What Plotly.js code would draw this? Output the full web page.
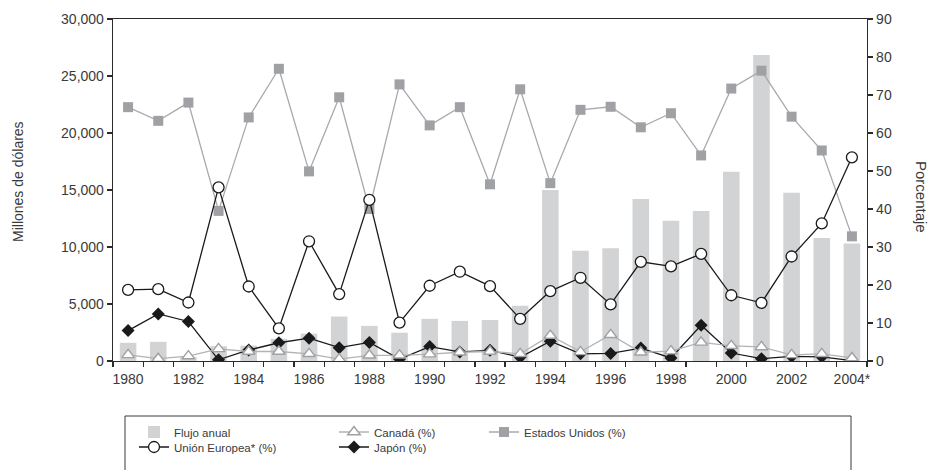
<!DOCTYPE html>
<html>
<head>
<meta charset="utf-8">
<script src="https://cdn.plot.ly/plotly-3.0.1.min.js"></script>
<style>
  html, body { margin: 0; padding: 0; background: #fff; }
  #chart { width: 932px; height: 470px; }
</style>
</head>
<body>
<div id="chart"></div>
<script>
// ---- Data ----
const years = [1980, 1981, 1982, 1983, 1984, 1985, 1986, 1987, 1988, 1989, 1990, 1991, 1992,
               1993, 1994, 1995, 1996, 1997, 1998, 1999, 2000, 2001, 2002, 2003, 2004];
const yearLabels = ["1980", "1982", "1984", "1986", "1988", "1990", "1992", "1994", "1996",
                    "1998", "2000", "2002", "2004*"];
const labelYears = [1980, 1982, 1984, 1986, 1988, 1990, 1992, 1994, 1996, 1998, 2000, 2002, 2004];

// Flujo anual (millones de dólares)
const flujoAnual = [1600, 1680, 350, 1300, 1350, 1950, 2400, 3900, 3080, 2480, 3700, 3520, 3600,
                    4850, 15000, 9680, 9900, 14200, 12300, 13150, 16600, 26850, 14750, 10800, 10300];
// Porcentajes
const estadosUnidos = [66.8, 63.2, 68.0, 39.5, 64.1, 76.9, 49.9, 69.4, 40.0, 72.8, 62.0, 66.8, 46.5,
                       71.5, 46.8, 66.1, 66.9, 61.5, 65.2, 54.1, 71.7, 76.4, 64.3, 55.4, 32.8];
const unionEuropea = [18.7, 18.9, 15.4, 45.7, 19.6, 8.6, 31.5, 17.6, 42.4, 10.1, 19.8, 23.5, 19.7,
                      11.1, 18.4, 21.9, 14.9, 26.1, 24.9, 28.2, 17.3, 15.3, 27.5, 36.2, 53.6];
const japon = [8.0, 12.4, 10.4, 0.3, 2.9, 4.8, 6.0, 3.5, 4.9, 0.5, 3.8, 2.4, 2.8,
               1.0, 5.2, 1.9, 2.0, 3.4, 0.8, 9.4, 2.1, 0.6, 1.2, 1.1, 0.1];
const canada = [1.6, 0.6, 1.3, 3.2, 2.5, 2.5, 1.9, 0.5, 1.5, 1.5, 1.8, 2.3, 2.5,
                1.9, 6.7, 2.4, 6.9, 2.3, 2.6, 4.9, 4.0, 3.7, 1.6, 1.9, 0.8];

const seriesNames = ["Flujo anual", "Canadá (%)", "Estados Unidos (%)", "Unión Europea* (%)", "Japón (%)"];

// category boundaries for the x ticks (half a year each side)
const boundaries = years.map(y => y - 0.5).concat([years[years.length - 1] + 0.5]);

const txt = '#3a3a3a';
const axisCol = '#2b2b2b';
const fontFam = '"Liberation Sans", Arial, Helvetica, sans-serif';

const traces = [
  {
    type: 'bar', name: seriesNames[0], x: years, y: flujoAnual, showlegend: true,
    width: 0.55, marker: { color: '#d1d3d4', line: { width: 0 } },
    yaxis: 'y', legend: 'legend'
  },
  {
    type: 'scatter', mode: 'lines+markers', name: seriesNames[2], x: years, y: estadosUnidos,
    yaxis: 'y2', line: { color: '#a7a9ac', width: 1.3 }, showlegend: true,
    marker: { symbol: 'square', size: 10, color: '#a0a1a4', line: { width: 0 } },
    legend: 'legend3'
  },
  {
    type: 'scatter', mode: 'lines+markers', name: seriesNames[3], x: years, y: unionEuropea,
    yaxis: 'y2', line: { color: '#1a1a1a', width: 1.3 }, showlegend: true,
    marker: { symbol: 'circle', size: 11, color: '#ffffff', line: { color: '#1a1a1a', width: 1.3 } },
    legend: 'legend4'
  },
  {
    type: 'scatter', mode: 'lines+markers', name: seriesNames[4], x: years, y: japon,
    yaxis: 'y2', line: { color: '#1a1a1a', width: 1.3 }, showlegend: true,
    marker: { symbol: 'diamond', size: 10, color: '#1a1a1a', line: { width: 0 } },
    legend: 'legend5'
  },
  {
    type: 'scatter', mode: 'lines+markers', name: seriesNames[1], x: years, y: canada,
    yaxis: 'y2', line: { color: '#b1b3b5', width: 1.3 }, showlegend: true,
    marker: { symbol: 'triangle-up', size: 11, color: '#ffffff', line: { color: '#a0a1a4', width: 1.4 } },
    legend: 'legend2'
  }
];

// plot area in px: left 113, right 867, top 19, bottom 361
const px2x = p => (p - 113) / 754;
const px2y = p => (361 - p) / 342;

function legendAt(xPx, yPx) {
  return {
    x: px2x(xPx), y: px2y(yPx), xanchor: 'left', yanchor: 'middle',
    orientation: 'v', bgcolor: 'rgba(0,0,0,0)', borderwidth: 0, visible: true,
    font: { family: fontFam, size: 11.5, color: txt }
  };
}

const layout = {
  width: 932, height: 470,
  showlegend: true,
  margin: { l: 113, r: 65, t: 19, b: 109, autoexpand: false },
  paper_bgcolor: '#ffffff', plot_bgcolor: '#ffffff',
  font: { family: fontFam, size: 14, color: txt },
  bargap: 0.45,
  xaxis: {
    type: 'linear', range: [years[0] - 0.5, years[years.length - 1] + 0.5],
    tickmode: 'array', tickvals: labelYears, ticktext: yearLabels,
    ticks: '', showgrid: false, zeroline: false, ticklabelstandoff: 5,
    showline: true, linecolor: axisCol, linewidth: 1.3, mirror: true,
    tickfont: { family: fontFam, size: 14, color: txt },
    minor: { tickmode: 'array', tickvals: boundaries, ticks: 'outside', ticklen: 5,
             tickwidth: 1.2, tickcolor: axisCol, showgrid: false },
    automargin: false, fixedrange: true
  },
  yaxis: {
    range: [0, 30000], tickmode: 'linear', tick0: 0, dtick: 5000, tickformat: ',d',
    ticks: 'outside', ticklen: 5, tickwidth: 1.2, tickcolor: axisCol,
    showline: true, linecolor: axisCol, linewidth: 1.3,
    showgrid: false, zeroline: false, automargin: false,
    tickfont: { family: fontFam, size: 14, color: txt }
  },
  yaxis2: {
    overlaying: 'y', side: 'right',
    range: [0, 90], tickmode: 'linear', tick0: 0, dtick: 10,
    ticks: 'outside', ticklen: 5, tickwidth: 1.2, tickcolor: axisCol,
    showline: true, linecolor: axisCol, linewidth: 1.3,
    showgrid: false, zeroline: false, automargin: false,
    tickfont: { family: fontFam, size: 14, color: txt }
  },
  legend: legendAt(134, 432),
  legend2: legendAt(334, 432),
  legend3: legendAt(484, 432),
  legend4: legendAt(134, 447),
  legend5: legendAt(334, 447),
  annotations: [
    { text: 'Millones de dólares', xref: 'paper', yref: 'paper', x: px2x(18), y: px2y(182),
      xanchor: 'center', yanchor: 'middle', textangle: -90, showarrow: false,
      font: { family: fontFam, size: 14, color: txt } },
    { text: 'Porcentaje', xref: 'paper', yref: 'paper', x: px2x(922), y: px2y(197),
      xanchor: 'center', yanchor: 'middle', textangle: 90, showarrow: false,
      font: { family: fontFam, size: 15, color: txt } }
  ],
  shapes: [
    { type: 'rect', xref: 'paper', yref: 'paper',
      x0: px2x(125), x1: px2x(851), y0: px2y(416), y1: px2y(480),
      line: { color: '#3a3a3a', width: 1 }, fillcolor: 'rgba(0,0,0,0)', layer: 'below' }
  ]
};

Plotly.newPlot('chart', traces, layout, { displayModeBar: false, staticPlot: true });
</script>
</body>
</html>
